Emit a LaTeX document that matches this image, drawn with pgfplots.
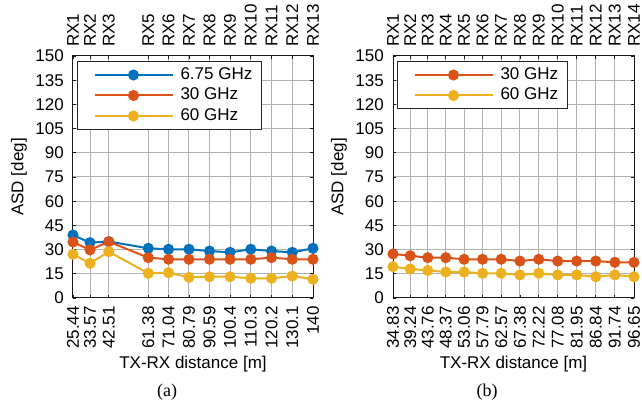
\documentclass[border=0pt]{standalone}
\usepackage{fontspec}
\setmainfont{Liberation Sans}
\newfontfamily\seriffont{Liberation Serif}
\usepackage{pgfplots}
\pgfplotsset{compat=1.18}
\definecolor{mblue}{rgb}{0,0.447,0.741}
\definecolor{morange}{rgb}{0.85,0.325,0.098}
\definecolor{myellow}{rgb}{0.929,0.694,0.125}
\pgfplotsset{
  base/.style={
    scale only axis, height=242pt,
    font=\fontsize{17}{20}\selectfont,
    /pgf/number format/assume math mode=true,
    ymin=0, ymax=150, ytick={0,15,...,150},
    tick align=inside, major tick length=3pt,
    tick style={black!90, line width=0.8pt},
    axis line style={black!90, line width=1pt},
    grid=major, major grid style={gray!60, line width=1pt},
    yticklabel style={inner sep=0pt}, yticklabel shift=9pt,
    xticklabel style={rotate=90, anchor=east, inner sep=0pt}, xticklabel shift=8pt,
    xlabel style={at={(axis description cs:0.5,0)}, anchor=center, yshift=-66pt},
    ylabel style={at={(axis description cs:0,0.5)}, anchor=center, yshift=54pt},
    legend cell align=left,
    legend image code/.code={\path (0pt,0pt); \draw[mark repeat=2,mark phase=2] plot coordinates {(7pt,0pt) (46pt,0pt) (85pt,0pt)};},
    legend style={at={(axis description cs:0,1)}, xshift=4pt, yshift=-5pt, anchor=north west,
      draw=black!85, line width=1pt, inner xsep=9pt, inner ysep=3.5pt,
      nodes={inner xsep=0pt, inner ysep=2.5pt, text height=12pt, text depth=3pt},
      row sep=0.5pt, column sep=7pt, font=\fontsize{17}{20}\selectfont},
  },
  topax/.style={
    scale only axis, height=242pt,
    font=\fontsize{17}{20}\selectfont,
    ymin=0, ymax=150, hide y axis,
    axis x line*=top, axis line style={draw=none}, major tick length=0pt,
    xticklabel pos=right,
    xticklabel style={rotate=90, anchor=west, inner sep=0pt}, xticklabel shift=9pt,
  },
  ser/.style={line width=2pt, mark=*, mark size=4.5pt, mark options={solid, fill=#1, draw=#1}, color=#1},
}
\begin{document}
\begin{tikzpicture}
\path[use as bounding box] (0pt,0pt) rectangle (642pt,403pt);
% ---------- (a) ----------
\begin{axis}[base, at={(73pt,105pt)}, anchor=south west, width=240pt,
  xmin=25.44, xmax=140,
  xtick={25.44,33.57,42.51,61.38,71.04,80.79,90.59,100.4,110.3,120.2,130.1,140},
  xticklabels={25.44,33.57,42.51,61.38,71.04,80.79,90.59,100.4,110.3,120.2,130.1,140},
  xlabel={TX-RX distance [m]}, ylabel={ASD [deg]}]
\addplot[ser=mblue] coordinates {(25.44,39.0) (33.57,34.3) (42.51,35.0) (61.38,30.8) (71.04,30.2) (80.79,30.2) (90.59,29.1) (100.4,28.3) (110.3,30.2) (120.2,29.1) (130.1,28.3) (140,30.8)};
\addlegendentry{6.75 GHz}
\addplot[ser=morange] coordinates {(25.44,34.7) (33.57,29.8) (42.51,34.9) (61.38,25.0) (71.04,24.0) (80.79,24.0) (90.59,24.0) (100.4,24.0) (110.3,24.0) (120.2,25.0) (130.1,24.0) (140,24.0)};
\addlegendentry{30 GHz}
\addplot[ser=myellow] coordinates {(25.44,27.1) (33.57,21.5) (42.51,28.7) (61.38,15.3) (71.04,15.7) (80.79,12.8) (90.59,13.2) (100.4,13.2) (110.3,12.2) (120.2,12.2) (130.1,13.6) (140,11.6)};
\addlegendentry{60 GHz}
\end{axis}
\begin{axis}[topax, at={(73pt,105pt)}, anchor=south west, width=240pt,
  xmin=25.44, xmax=140,
  xtick={25.44,33.57,42.51,61.38,71.04,80.79,90.59,100.4,110.3,120.2,130.1,140},
  xticklabels={RX1,RX2,RX3,RX5,RX6,RX7,RX8,RX9,RX10,RX11,RX12,RX13}]
\addplot[draw=none] coordinates {(25.44,0) (140,0)};
\end{axis}
% ---------- (b) ----------
\begin{axis}[base, at={(393pt,105pt)}, anchor=south west, width=241pt,
  xmin=34.83, xmax=96.65,
  xtick={34.83,39.24,43.76,48.37,53.06,57.79,62.57,67.38,72.22,77.08,81.95,86.84,91.74,96.65},
  xticklabels={34.83,39.24,43.76,48.37,53.06,57.79,62.57,67.38,72.22,77.08,81.95,86.84,91.74,96.65},
  xlabel={TX-RX distance [m]}, ylabel={ASD [deg]}]
\addplot[ser=morange] coordinates {(34.83,27.3) (39.24,26.2) (43.76,25.0) (48.37,25.0) (53.06,24.0) (57.79,24.0) (62.57,24.0) (67.38,22.9) (72.22,24.0) (77.08,22.9) (81.95,22.9) (86.84,22.9) (91.74,22.1) (96.65,22.1)};
\addlegendentry{30 GHz}
\addplot[ser=myellow] coordinates {(34.83,19.4) (39.24,18.0) (43.76,17.1) (48.37,16.1) (53.06,16.1) (57.79,15.3) (62.57,15.3) (67.38,14.3) (72.22,15.3) (77.08,14.3) (81.95,14.3) (86.84,13.2) (91.74,14.3) (96.65,13.2)};
\addlegendentry{60 GHz}
\end{axis}
\begin{axis}[topax, at={(393pt,105pt)}, anchor=south west, width=241pt,
  xmin=34.83, xmax=96.65,
  xtick={34.83,39.24,43.76,48.37,53.06,57.79,62.57,67.38,72.22,77.08,81.95,86.84,91.74,96.65},
  xticklabels={RX1,RX2,RX3,RX4,RX5,RX6,RX7,RX8,RX9,RX10,RX11,RX12,RX13,RX14}]
\addplot[draw=none] coordinates {(34.83,0) (96.65,0)};
\end{axis}
\node[font=\seriffont\fontsize{18}{20}\selectfont] at (167pt,11pt) {(a)};
\node[font=\seriffont\fontsize{18}{20}\selectfont] at (487pt,11pt) {(b)};
\end{tikzpicture}
\end{document}
